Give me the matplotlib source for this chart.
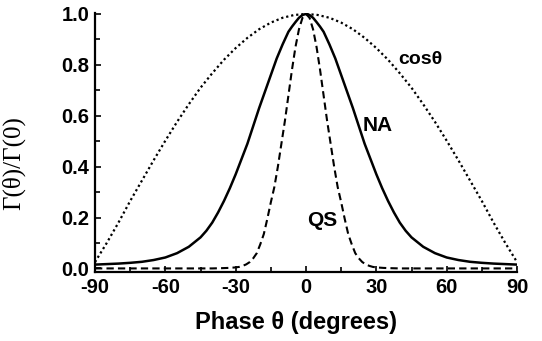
import numpy as np
import matplotlib.pyplot as plt
from matplotlib.ticker import MultipleLocator

plt.rcParams['axes.unicode_minus'] = False
plt.rcParams['font.family'] = ['Liberation Sans', 'DejaVu Sans']

# values (symmetric about 0)
cos_theta = [0, 5, 10, 15, 20, 25, 30, 35, 40, 45, 50, 55, 60, 65, 70, 75, 80, 85, 90]
cos_vals = [1.0, 0.996, 0.985, 0.966, 0.94, 0.906, 0.866, 0.82, 0.767, 0.71,
            0.645, 0.576, 0.502, 0.425, 0.345, 0.265, 0.18, 0.1, 0.025]

na_theta = [0, 1.5, 3, 4.5, 6, 7.5, 10, 12.5, 15, 17.5, 20, 22.5, 25, 27.5, 30, 32.5, 35,
            37.5, 40, 42.5, 45, 50, 55, 60, 65, 70, 75, 80, 85, 90]
na_vals = [1.0, 0.996, 0.985, 0.968, 0.95, 0.93, 0.88, 0.825, 0.76, 0.695, 0.63, 0.56, 0.49,
           0.43, 0.37, 0.315, 0.265, 0.22, 0.18, 0.148, 0.122, 0.085, 0.06,
           0.043, 0.033, 0.026, 0.022, 0.019, 0.017, 0.015]

qs_theta = [0, 1.5, 3, 4.5, 6, 7.5, 9, 10.5, 12, 13.5, 15, 16.5, 18, 19.5, 21,
            22.5, 24, 25.5, 27, 28.5, 30, 33, 36, 40, 90]
qs_vals = [1.0, 0.985, 0.94, 0.87, 0.78, 0.68, 0.58, 0.49, 0.40, 0.32, 0.26,
           0.195, 0.135, 0.095, 0.06, 0.04, 0.025, 0.016, 0.01, 0.006, 0.004,
           0.002, 0.001, 0.0, 0.0]


def mirror(t, v):
    t = np.asarray(t, float)
    v = np.asarray(v, float)
    return np.r_[-t[:0:-1], t], np.r_[v[:0:-1], v]


fig = plt.figure(figsize=(5.42, 3.41), dpi=100)
ax = fig.add_axes([0.1753, 0.2009, 0.7786, 0.7619])

x, y = mirror(cos_theta, cos_vals)
ax.plot(x, y, color='black', lw=1.6, linestyle=(0, (1, 1.3)))
x, y = mirror(na_theta, na_vals)
ax.plot(x, y, color='black', lw=1.8)
x, y = mirror(qs_theta, qs_vals)
ax.plot(x, y, color='black', lw=1.5, linestyle=(0, (3.5, 2)))

ax.set_xlim(-90, 90)
ax.set_ylim(-0.016, 1.005)
ax.xaxis.set_major_locator(MultipleLocator(30))
ax.xaxis.set_minor_locator(MultipleLocator(15))
ax.yaxis.set_major_locator(MultipleLocator(0.2))
ax.yaxis.set_minor_locator(MultipleLocator(0.1))
ax.yaxis.set_major_formatter(plt.FormatStrFormatter('%.1f'))

for s in ['top', 'right']:
    ax.spines[s].set_visible(False)
for s in ['left', 'bottom']:
    ax.spines[s].set_linewidth(1.6)

ax.tick_params(which='both', direction='in', width=1.2, labelsize=14.5, pad=4)
ax.tick_params(which='major', length=4)
ax.tick_params(which='minor', length=3.5)
for lab in ax.get_xticklabels() + ax.get_yticklabels():
    lab.set_fontweight('bold')

ax.set_xlabel('Phase θ (degrees)', fontsize=17, fontweight='bold')
ax.xaxis.set_label_coords(0.477, -0.15)
ax.set_ylabel('Γ(θ)/Γ(0)', fontsize=18, family='Liberation Serif')
ax.yaxis.set_label_coords(-0.165, 0.42)

ax.text(48.8, 0.82, 'cosθ', fontsize=14, fontweight='bold', ha='center', va='center')
ax.text(30.5, 0.56, 'NA', fontsize=15, fontweight='bold', ha='center', va='center')
ax.text(7.0, 0.19, 'QS', fontsize=15, fontweight='bold', ha='center', va='center')

fig.savefig('out.png', dpi=100)
